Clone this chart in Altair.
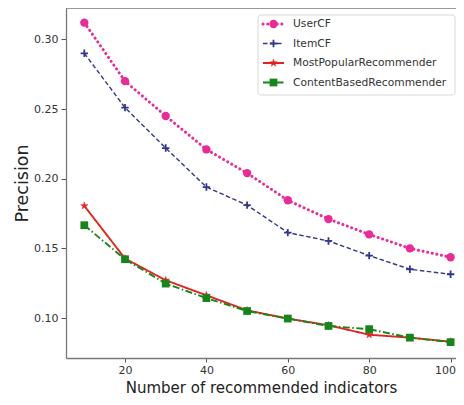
import altair as alt
import pandas as pd

# ---- data ----
x_vals = [10, 20, 30, 40, 50, 60, 70, 80, 90, 100]
user_cf = [0.312, 0.270, 0.245, 0.221, 0.204, 0.1845, 0.171, 0.160, 0.150, 0.1436]
item_cf = [0.290, 0.251, 0.222, 0.194, 0.181, 0.1613, 0.1553, 0.1448, 0.135, 0.1314]
most_popular = [0.1805, 0.1427, 0.1271, 0.1163, 0.1055, 0.0996, 0.0948, 0.088, 0.0859, 0.083]
content_based = [0.1666, 0.1422, 0.1247, 0.1143, 0.105, 0.0996, 0.0943, 0.092, 0.0859, 0.0827]
series_names = ["UserCF", "ItemCF", "MostPopularRecommender", "ContentBasedRecommender"]
x_ticks = [20, 40, 60, 80, 100]
y_ticks = [0.10, 0.15, 0.20, 0.25, 0.30]

series_values = [user_cf, item_cf, most_popular, content_based]
rows = []
for name, vals in zip(series_names, series_values):
    for xv, yv in zip(x_vals, vals):
        rows.append({"series": name, "x": xv, "y": yv})
df = pd.DataFrame(rows)

STAR = ("M0,-1 L0.223,-0.307 L0.951,-0.309 L0.361,0.117 L0.588,0.809 L0,0.38 "
        "L-0.588,0.809 L-0.361,0.117 L-0.951,-0.309 L-0.223,-0.307 Z")
PLUS = "M-1,0 L1,0 M0,-1 L0,1"

styles = {
    "UserCF": dict(color="#ea2a96", dash=[0.1, 4.6], width=3.0, cap="round",
                   shape="circle", size=70, filled=True, mstroke=0),
    "ItemCF": dict(color="#33358f", dash=[4.5, 2.5], width=1.4, cap="butt",
                   shape=PLUS, size=55, filled=False, mstroke=1.8),
    "MostPopularRecommender": dict(color="#e3231f", dash=[1, 0], width=1.9, cap="butt",
                                   shape=STAR, size=60, filled=True, mstroke=0.5),
    "ContentBasedRecommender": dict(color="#15861a", dash=[7, 2.5, 1.5, 2.5], width=1.9, cap="butt",
                                    shape="square", size=60, filled=True, mstroke=0),
}

FONT = "DejaVu Sans"
W, H = 390, 350
SPINE = "#777777"

base = alt.Chart(df).encode(
    x=alt.X("x:Q",
            scale=alt.Scale(domain=[5.5, 101.33], nice=False, zero=False),
            axis=alt.Axis(values=x_ticks, title="Number of recommended indicators", format="d",
                          labelFlush=6, labelFlushOffset=5,
                          titleY=34, titleBaseline="alphabetic")),
    y=alt.Y("y:Q",
            scale=alt.Scale(domain=[0.0713, 0.3225], nice=False, zero=False),
            axis=alt.Axis(values=y_ticks, title="Precision", format=".2f")),
)

layers = []
for name in series_names:
    s = styles[name]
    sub = base.transform_filter(alt.datum.series == name)
    layers.append(sub.mark_line(color=s["color"], strokeWidth=s["width"],
                                strokeDash=s["dash"], strokeCap=s["cap"]))
    layers.append(sub.mark_point(shape=s["shape"], size=s["size"], filled=s["filled"],
                                 color=s["color"], stroke=s["color"],
                                 strokeWidth=s["mstroke"], opacity=1))

one = pd.DataFrame({"k": [0]})

# top spine
layers.append(alt.Chart(one).mark_rule(color=SPINE, strokeWidth=1.3).encode(
    x=alt.value(0), x2=alt.value(W), y=alt.value(0)))

# legend
legend_top, legend_bottom = 7, 87
legend_left, legend_right = 192, 389
layers.append(alt.Chart(one).mark_rect(fill="white", stroke="#d4d4d4", strokeWidth=1,
                                       cornerRadius=3, opacity=0.9).encode(
    x=alt.value(legend_left), x2=alt.value(legend_right),
    y=alt.value(legend_top), y2=alt.value(legend_bottom)))
row_y = [16, 35.5, 55, 74.5]
for name, ry in zip(series_names, row_y):
    s = styles[name]
    layers.append(alt.Chart(one).mark_rule(color=s["color"], strokeWidth=s["width"],
                                           strokeDash=s["dash"], strokeCap=s["cap"]).encode(
        x=alt.value(197), x2=alt.value(218), y=alt.value(ry)))
    layers.append(alt.Chart(one).mark_point(shape=s["shape"], size=s["size"], filled=s["filled"],
                                            color=s["color"], stroke=s["color"],
                                            strokeWidth=s["mstroke"], opacity=1).encode(
        x=alt.value(207.5), y=alt.value(ry)))
    layers.append(alt.Chart(one).mark_text(text=name, align="left", baseline="middle",
                                           font=FONT, fontSize=10.7, color="#333333").encode(
        x=alt.value(227), y=alt.value(ry)))

chart = alt.layer(*layers).properties(
    width=W, height=H,
    autosize=alt.AutoSizeParams(type="none"),
    padding={"left": 58, "top": 0, "right": 0, "bottom": 38},
).configure_view(stroke=None).configure_axis(
    grid=False,
    domainColor=SPINE, domainWidth=1.3,
    tickColor="#555555", tickSize=5, tickWidth=1,
    labelFont=FONT, labelFontSize=11, labelColor="#333333",
    titleFont=FONT, titleFontWeight="normal", titleColor="#222222",
).configure_axisX(
    titleFontSize=15, labelPadding=2, tickSize=4,
).configure_axisY(
    titleFontSize=17.5, titlePadding=2, labelPadding=3,
)

chart.save("out.html", embed_options={"renderer": "svg", "actions": False})
